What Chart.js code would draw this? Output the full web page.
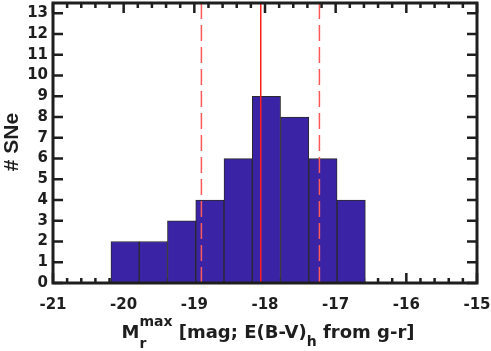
<!DOCTYPE html>
<html>
<head>
<meta charset="utf-8">
<script src="https://cdn.jsdelivr.net/npm/chart.js@4.4.0/dist/chart.umd.min.js"></script>
<style>
  html, body { margin: 0; padding: 0; background: #fff; }
  canvas { display: block; }
</style>
</head>
<body>
<canvas id="histo" width="491" height="351"></canvas>
<script>
// histogram bins (centres, bin width 0.4 mag) and counts
const binCenters = [-19.98, -19.58, -19.18, -18.78, -18.38, -17.98, -17.58, -17.18, -16.78];
const counts = [2, 2, 3, 4, 6, 9, 8, 6, 4];
// mean and +/- 1 sigma
const meanMag = -18.06;
const sigmaMags = [-18.90, -17.23];
const xTicks = [-21, -20, -19, -18, -17, -16, -15];
const yTicks = [0, 1, 2, 3, 4, 5, 6, 7, 8, 9, 10, 11, 12, 13];

const ink = '#1e1e1e';

function vline(x, color, dash) {
    return {
        type: 'line',
        data: [{x: x, y: 0}, {x: x, y: 13.5}],
        borderColor: color,
        borderWidth: 1.5,
        borderDash: dash,
        pointRadius: 0,
        order: 0
    };
}

// ticks inside the box, drawn under the bars (like matlab)
const boxTicks = {
    id: 'boxTicks',
    beforeDatasetsDraw(chart) {
        const {ctx, chartArea: a, scales: {x, y}} = chart;
        ctx.save();
        ctx.strokeStyle = ink;
        ctx.lineWidth = 2.5;
        ctx.beginPath();
        for (let k = 0; k <= 30; k++) {
            const v = -21 + k * 0.2;
            const px = x.getPixelForValue(v);
            const len = (k % 5 === 0) ? 10 : 5;
            ctx.moveTo(px, a.bottom); ctx.lineTo(px, a.bottom - len);
            ctx.moveTo(px, a.top); ctx.lineTo(px, a.top + len);
        }
        yTicks.forEach(v => {
            const py = y.getPixelForValue(v);
            ctx.moveTo(a.left, py); ctx.lineTo(a.left + 10, py);
            ctx.moveTo(a.right, py); ctx.lineTo(a.right - 10, py);
        });
        ctx.stroke();
        ctx.restore();
    },
    afterDatasetsDraw(chart) {
        const {ctx, chartArea: a} = chart;
        ctx.save();
        ctx.strokeStyle = ink;
        ctx.lineWidth = 3;
        ctx.strokeRect(a.left, a.top, a.right - a.left, a.bottom - a.top);
        ctx.restore();
    },
    afterDraw(chart) {
        const {ctx, chartArea: a} = chart;
        ctx.save();
        ctx.fillStyle = ink;
        // y title
        ctx.font = "bold 21px 'Liberation Sans'";
        ctx.textAlign = 'center';
        ctx.textBaseline = 'alphabetic';
        ctx.translate(18, (a.top + a.bottom) / 2 - 1);
        ctx.rotate(-Math.PI / 2);
        ctx.fillText('# SNe', 0, 0);
        ctx.setTransform(1, 0, 0, 1, 0, 0);

        // x title with sub/superscripts
        const big = "bold 18px 'DejaVu Sans'", small = "bold 14px 'DejaVu Sans'";
        const base = 338, supBase = 326, subBase = 346;
        const parts = [
            {t: 'M', f: big, dy: base},
            {t: 'max', f: small, dy: supBase, stack: 'r'},
            {t: ' [mag; E(B-V)', f: big, dy: base},
            {t: 'h', f: small, dy: subBase},
            {t: ' from g-r]', f: big, dy: base}
        ];
        let total = 0;
        parts.forEach(p => { ctx.font = p.f; p.w = ctx.measureText(p.t).width; total += p.w; });
        let cx = (a.left + a.right) / 2 - total / 2 + 3;
        ctx.textAlign = 'left';
        parts.forEach(p => {
            ctx.font = p.f;
            ctx.fillText(p.t, cx, p.dy);
            if (p.stack) ctx.fillText(p.stack, cx, subBase + 2);
            cx += p.w;
        });
        ctx.restore();
    }
};

new Chart(document.getElementById('histo'), {
    type: 'bar',
    data: {
        datasets: [
            vline(meanMag, 'rgb(255,30,30)', []),
            vline(sigmaMags[0], 'rgb(250,90,90)', [16, 6]),
            vline(sigmaMags[1], 'rgb(250,90,90)', [16, 6]),
            {
                type: 'bar',
                data: binCenters.map((c, i) => ({x: c, y: counts[i]})),
                backgroundColor: 'rgb(58,36,165)',
                borderColor: '#2a2a2a',
                borderWidth: 1,
                borderSkipped: false,
                barPercentage: 1,
                categoryPercentage: 1,
                order: 1
            }
        ]
    },
    options: {
        responsive: false,
        animation: false,
        layout: {padding: {top: 3, right: 14, left: 0, bottom: 0}},
        plugins: {legend: {display: false}, tooltip: {enabled: false}},
        scales: {
            x: {
                type: 'linear',
                min: -21, max: -15,
                offset: false,
                grid: {display: false, drawTicks: false},
                border: {display: false},
                afterBuildTicks: s => { s.ticks = xTicks.map(v => ({value: v})); },
                afterFit: s => { s.height = 68; s.paddingLeft = 0; s.paddingRight = 0; },
                ticks: {font: {family: 'DejaVu Sans', size: 15, weight: 'bold'}, color: ink, padding: 13, maxRotation: 0}
            },
            y: {
                min: 0, max: 13.5,
                grid: {display: false, drawTicks: false},
                border: {display: false},
                afterBuildTicks: s => { s.ticks = yTicks.map(v => ({value: v})); },
                afterFit: s => { s.width = 53; s.paddingTop = 0; s.paddingBottom = 0; },
                ticks: {autoSkip: false, font: {family: 'DejaVu Sans', size: 15, weight: 'bold'}, color: ink, padding: 5}
            }
        }
    },
    plugins: [boxTicks]
});
</script>
</body>
</html>
